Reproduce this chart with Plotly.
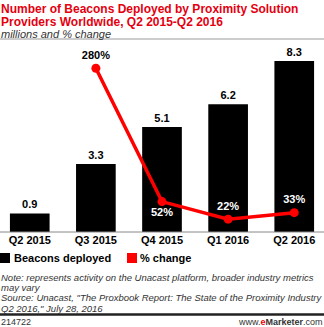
import plotly.graph_objects as go

# Quarterly beacon deployments (millions) and quarter-over-quarter % change
quarters = ["Q2 2015", "Q3 2015", "Q4 2015", "Q1 2016", "Q2 2016"]
beacons = [0.9, 3.3, 5.1, 6.2, 8.3]
pct_change = [None, 280, 52, 22, 33]
pct_label_pos = ["top center", "top center", "bottom center", "top center", "top center"]
pct_label_color = ["black", "black", "white", "white", "white"]

title_lines = ["Number of Beacons Deployed by Proximity Solution",
               "Providers Worldwide, Q2 2015-Q2 2016"]
subtitle = "millions and % change"
note_lines = ["Note: represents activity on the Unacast platform, broader industry metrics",
              "may vary",
              "Source: Unacast, \"The Proxbook Report: The State of the Proximity Industry",
              "Q2 2016,\" July 28, 2016"]

FONT = "Arial, Liberation Sans, sans-serif"
W, H = 324, 327
TOP, BOTTOM = 39, 95
plot_h = H - TOP - BOTTOM


def py(y_px):
    """Convert a pixel row to paper coordinates."""
    return (H - BOTTOM - y_px) / plot_h


fig = go.Figure()
fig.add_trace(go.Bar(
    x=quarters, y=beacons, name="Beacons deployed",
    marker=dict(color="black", line=dict(width=0)),
    width=0.6,
    text=[f"{v:.1f}" for v in beacons], textposition="outside",
    textfont=dict(family=FONT, size=11, color="black", weight="bold"),
    cliponaxis=False, yaxis="y",
))
fig.add_trace(go.Scatter(
    x=quarters, y=pct_change, name="% change", mode="lines+markers+text",
    line=dict(color="#ff0000", width=3.5),
    marker=dict(color="#ff0000", size=9),
    text=[f"{v}%" if v is not None else "" for v in pct_change],
    textposition=pct_label_pos,
    textfont=dict(family=FONT, size=11, color=pct_label_color, weight="bold"),
    cliponaxis=False, yaxis="y2",
))

ann = []
for i, line in enumerate(title_lines):
    ann.append(dict(text=f"<b>{line}</b>", x=0, y=py(9 + 13 * i), xanchor="left", yanchor="middle",
                    font=dict(family=FONT, size=12, color="#e4000f")))
ann.append(dict(text=f"<i>{subtitle}</i>", x=0, y=py(34), xanchor="left", yanchor="middle",
                font=dict(family=FONT, size=11, color="#333333")))
ann.append(dict(text="<b>Beacons deployed</b>", x=13 / W, y=py(258), xanchor="left", yanchor="middle",
                font=dict(family=FONT, size=11, color="black")))
ann.append(dict(text="<b>% change</b>", x=139 / W, y=py(258), xanchor="left", yanchor="middle",
                font=dict(family=FONT, size=11, color="black")))
for i, line in enumerate(note_lines):
    ann.append(dict(text=f"<i>{line}</i>", x=0, y=py(277.5 + 10.2 * i), xanchor="left",
                    yanchor="middle", font=dict(family=FONT, size=9.5, color="#333333")))
ann.append(dict(text="214722", x=0, y=py(322), xanchor="left", yanchor="middle",
                font=dict(family=FONT, size=9, color="#333333")))
ann.append(dict(text="www.<b><span style='color:#e4000f'>e</span>Marketer</b>.com", x=1, y=py(322),
                xanchor="right", yanchor="middle", font=dict(family=FONT, size=9, color="#333333")))
for a in ann:
    a.update(xref="paper", yref="paper", showarrow=False, borderpad=0)

shapes = [
    dict(type="line", xref="paper", yref="paper", x0=0, x1=1, y0=1, y1=1,
         line=dict(color="#999999", width=1)),
    dict(type="line", xref="paper", yref="paper", x0=0, x1=1, y0=0, y1=0,
         line=dict(color="#888888", width=1)),
    dict(type="rect", xref="paper", yref="paper", x0=0, x1=10 / W, y0=py(253), y1=py(263),
         fillcolor="black", line=dict(width=0)),
    dict(type="rect", xref="paper", yref="paper", x0=127 / W, x1=137 / W, y0=py(253), y1=py(263),
         fillcolor="#ff0000", line=dict(width=0)),
    dict(type="line", xref="paper", yref="paper", x0=0, x1=1, y0=py(314.5), y1=py(314.5),
         line=dict(color="#222222", width=2.5)),
]

fig.update_layout(
    width=W, height=H, margin=dict(l=0, r=0, t=TOP, b=BOTTOM),
    paper_bgcolor="white", plot_bgcolor="white", showlegend=False,
    bargap=0.4,
    xaxis=dict(range=[-0.45, 4.45], showgrid=False, zeroline=False, showline=False,
               ticks="", tickfont=dict(family=FONT, size=11, color="black", weight="bold")),
    yaxis=dict(range=[0, 193 / 20.6], visible=False, fixedrange=True),
    yaxis2=dict(range=[0, 193 / 0.585], overlaying="y", visible=False),
    annotations=ann, shapes=shapes,
)

fig.write_html("out.html")
